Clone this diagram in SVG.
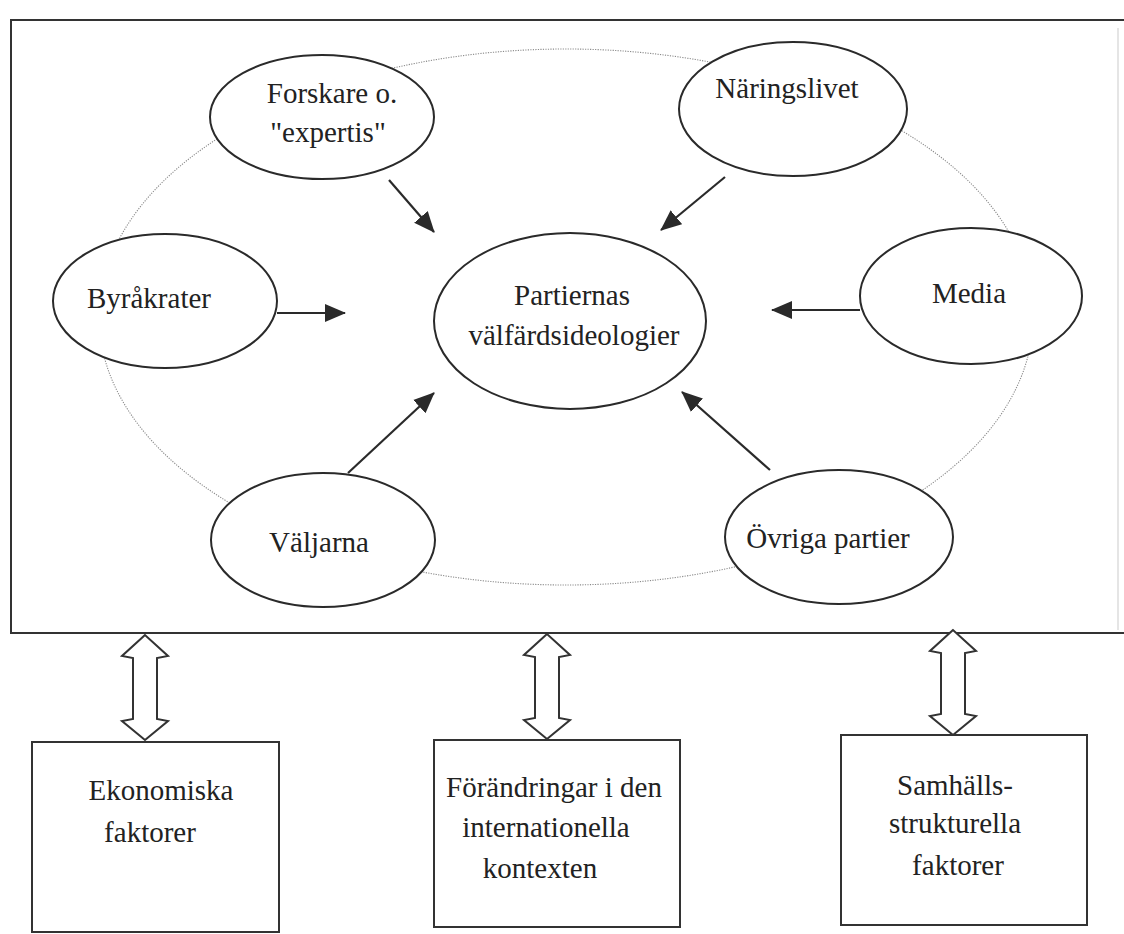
<svg xmlns="http://www.w3.org/2000/svg" width="1124" height="934" viewBox="0 0 1124 934">
<style>
.t{font-family:"Liberation Serif","Times New Roman",serif;font-size:29px;fill:#222;text-anchor:middle}
.n{fill:#fff;stroke:#2a2a2a;stroke-width:2}
.c{stroke:#2a2a2a;stroke-width:2.2;fill:none}
.dot{fill:none;stroke:#8a8a8a;stroke-width:1.1;stroke-dasharray:1.2 1.3}
.b{fill:#fff;stroke:#333;stroke-width:2}
</style>
<defs>
<marker id="ah" markerWidth="22" markerHeight="20" refX="20" refY="10" orient="auto" markerUnits="userSpaceOnUse">
<path d="M0,1 L21,10 L0,19 Z" fill="#2a2a2a"/>
</marker>
<path id="dbl" d="M0,0 L-23,21 L-12,23 L-12,84 L-23,86 L0,105 L23,86 L12,84 L12,23 L23,21 Z"/>
</defs>
<rect width="1124" height="934" fill="#fff"/>
<g id="frame">
<path d="M1124,20 H11 V633 H1124" fill="none" stroke="#333" stroke-width="2"/>
<line x1="1118" y1="28" x2="1118" y2="630" stroke="#ddd" stroke-width="1.5"/>
</g>
<ellipse id="ring" class="dot" cx="566" cy="317" rx="467" ry="268"/>
<g id="connectors">
<line class="c" x1="389" y1="180" x2="434" y2="232" marker-end="url(#ah)"/>
<line class="c" x1="725" y1="177" x2="661" y2="230" marker-end="url(#ah)"/>
<line class="c" x1="277" y1="313" x2="345" y2="313" marker-end="url(#ah)"/>
<line class="c" x1="860" y1="310" x2="772" y2="310" marker-end="url(#ah)"/>
<line class="c" x1="348" y1="473" x2="434" y2="393" marker-end="url(#ah)"/>
<line class="c" x1="770" y1="470" x2="682" y2="392" marker-end="url(#ah)"/>
<use href="#dbl" class="b" transform="translate(145,635)"/>
<use href="#dbl" class="b" transform="translate(547,634)"/>
<use href="#dbl" class="b" transform="translate(953,630)"/>
</g>
<g id="forskare">
<ellipse class="n" cx="322" cy="117" rx="112" ry="62"/>
<text class="t" x="332" y="103">Forskare o.</text>
<text class="t" x="328" y="142">"expertis"</text>
</g>
<g id="naringslivet">
<ellipse class="n" cx="793" cy="109" rx="114" ry="67"/>
<text class="t" x="787" y="98">Näringslivet</text>
</g>
<g id="byrakrater">
<ellipse class="n" cx="165" cy="301" rx="112" ry="67"/>
<text class="t" x="149" y="308">Byråkrater</text>
</g>
<g id="partiernas">
<ellipse class="n" cx="570" cy="321" rx="136" ry="88"/>
<text class="t" x="572" y="305">Partiernas</text>
<text class="t" x="574" y="345">välfärdsideologier</text>
</g>
<g id="media">
<ellipse class="n" cx="971" cy="296" rx="111" ry="68"/>
<text class="t" x="969" y="303">Media</text>
</g>
<g id="valjarna">
<ellipse class="n" cx="323" cy="540" rx="112" ry="67"/>
<text class="t" x="319" y="552">Väljarna</text>
</g>
<g id="ovriga">
<ellipse class="n" cx="839" cy="537" rx="114" ry="67"/>
<text class="t" x="828" y="548">Övriga partier</text>
</g>
<g id="ekonomiska">
<rect class="b" x="32" y="742" width="247" height="190"/>
<text class="t" x="161" y="800">Ekonomiska</text>
<text class="t" x="150" y="842">faktorer</text>
</g>
<g id="forandringar">
<rect class="b" x="434" y="740" width="246" height="187"/>
<text class="t" x="554" y="797">Förändringar i den</text>
<text class="t" x="546" y="837">internationella</text>
<text class="t" x="540" y="878">kontexten</text>
</g>
<g id="samhalls">
<rect class="b" x="841" y="735" width="246" height="190"/>
<text class="t" x="955" y="795">Samhälls-</text>
<text class="t" x="955" y="833">strukturella</text>
<text class="t" x="958" y="875">faktorer</text>
</g>
</svg>
